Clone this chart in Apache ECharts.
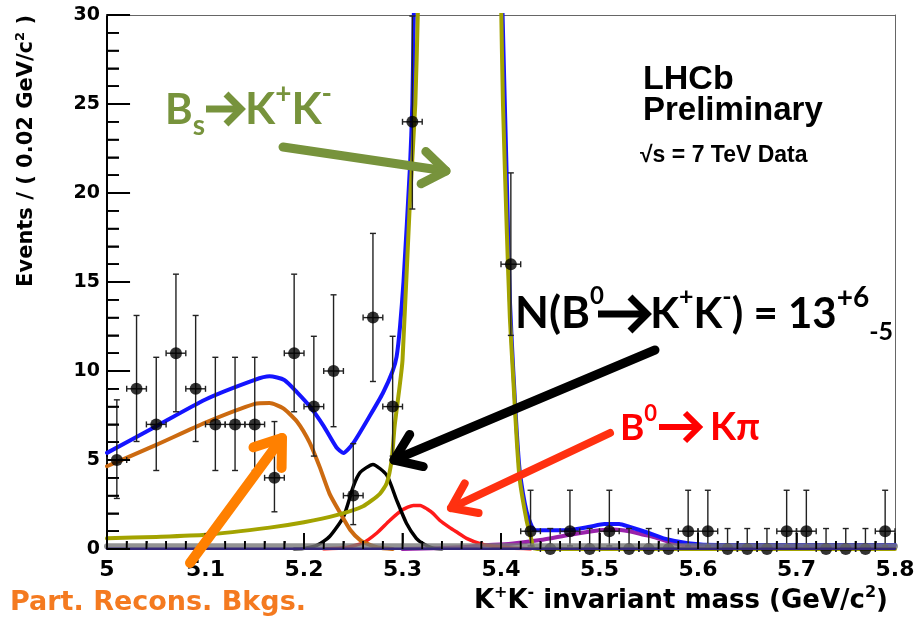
<!DOCTYPE html>
<html><head><meta charset="utf-8">
<script src="https://cdn.jsdelivr.net/npm/echarts@6/dist/echarts.min.js"></script>
<style>html,body{margin:0;padding:0;background:#fff}#c{width:918px;height:624px}</style>
</head><body><div id="c"></div>
<script>
// ---- data ----
const binCenters = [5.01,5.03,5.05,5.07,5.09,5.11,5.13,5.15,5.17,5.19,5.21,5.23,5.25,5.27,5.29,5.31,5.33,5.35,5.37,5.39,
                    5.41,5.43,5.45,5.47,5.49,5.51,5.53,5.55,5.57,5.59,5.61,5.63,5.65,5.67,5.69,5.71,5.73,5.75,5.77,5.79];
const counts = [5,9,7,11,9,7,7,7,4,11,8,10,3,13,8,24,58,105,92,38,
                16,1,0,1,0,1,0,0,0,1,1,0,0,0,1,1,0,0,0,1];
const errLow = [2.84,6.04,4.41,7.71,6.04,4.41,4.41,4.41,2.09,7.71,5.22,6.87,1.37,9.41,5.22,19.1,50.4,94.8,82.4,31.8,
                12.0,0.17,0,0.17,0,0.17,0,0,0,0.17,0.17,0,0,0,0.17,0.17,0,0,0,0.17];
const errHigh = [8.38,13.12,10.77,15.44,13.12,10.77,10.77,10.77,7.16,15.44,11.95,14.28,5.92,17.73,11.95,29.94,66.6,115.8,102.1,44.7,
                 21.13,3.30,1.15,3.30,1.15,3.30,1.15,1.15,1.15,3.30,3.30,1.15,1.15,1.15,3.30,3.30,1.15,1.15,1.15,3.30];
const xTicks = [5.0,5.1,5.2,5.3,5.4,5.5,5.6,5.7,5.8];
const yTicks = [0,5,10,15,20,25,30];

const totalCurve = [[5.000,5.4],[5.050,6.9],[5.100,8.4],[5.150,9.5],[5.165,9.7],[5.180,9.5],[5.193,8.8],[5.206,8.0],
  [5.220,6.9],[5.233,5.7],[5.240,5.4],[5.250,5.95],[5.267,7.5],[5.280,8.75],[5.290,10.0],[5.294,10.8],[5.2975,12.5],
  [5.301,15.0],[5.3076,21.5],[5.310,25.0],[5.3115,30.0],[5.316,40],[5.33,90],[5.36,160],[5.39,90],[5.398,45],
  [5.400,34],[5.4025,28],[5.406,20.5],[5.409,14],[5.4125,10],[5.416,6.6],[5.419,4.4],[5.426,2.1],[5.433,1.1],
  [5.44,1.05],[5.47,1.07],[5.49,1.25],[5.505,1.4],[5.52,1.4],[5.53,1.25],[5.55,0.9],[5.565,0.6],[5.59,0.33],
  [5.62,0.22],[5.80,0.22]];
const bsKKCurve = [[5.00,0.6],[5.05,0.68],[5.10,0.8],[5.165,1.2],[5.20,1.5],[5.233,1.9],[5.26,2.4],[5.277,3.1],
  [5.284,3.7],[5.289,5.0],[5.292,6.9],[5.297,9.1],[5.300,10.6],[5.3076,19.6],[5.313,25],[5.3155,30],[5.32,40],
  [5.335,90],[5.36,150],[5.385,90],[5.395,50],[5.400,31],[5.402,25],[5.406,17.7],[5.409,13],[5.4125,9.5],
  [5.416,6.1],[5.419,3.9],[5.426,1.6],[5.431,0.5],[5.433,0.05],[5.44,0],[5.80,0]];
const partRecoCurve = [[5.00,4.65],[5.05,5.85],[5.10,7.1],[5.15,8.15],[5.165,8.2],[5.179,7.9],[5.193,7.15],
  [5.206,5.95],[5.216,4.6],[5.226,3.1],[5.237,2.0],[5.247,1.07],[5.257,0.5],[5.264,0.3],[5.275,0.08],[5.29,0]];
const b0KKCurve = [[5.19,0],[5.199,0.02],[5.213,0.2],[5.226,0.7],[5.240,1.8],[5.250,3.5],[5.257,4.3],[5.270,4.75],
  [5.284,4.15],[5.294,2.75],[5.304,1.45],[5.314,0.6],[5.321,0.3],[5.331,0.05],[5.34,0]];
const b0KpiCurve = [[5.22,0],[5.243,0.08],[5.26,0.35],[5.274,0.9],[5.287,1.6],[5.300,2.2],[5.311,2.45],[5.318,2.45],
  [5.325,2.25],[5.331,2.0],[5.338,1.6],[5.348,1.2],[5.355,0.95],[5.365,0.6],[5.379,0.3],[5.392,0.15],[5.41,0.05],[5.43,0]];
const threeBodyCurve = [[5.30,0],[5.36,0.1],[5.38,0.2],[5.41,0.3],[5.44,0.5],[5.47,0.8],[5.50,1.05],[5.515,1.1],
  [5.53,1.0],[5.545,0.8],[5.555,0.67],[5.575,0.33],[5.595,0.13],[5.62,0.02],[5.65,0]];
const combCurve = [[5.0,0.15],[5.8,0.15]];
const baseCurve = [[5.0,0.02],[5.8,0.02]];

// tick mark lengths expressed in data units (style)
const TICK = {xMajor:0.9, xMinor:0.45, yMajor:0.0234, yMinor:0.0122};

// ---- chart ----
const chart = echarts.init(document.getElementById('c'), null, {renderer:'canvas'});
const pts = binCenters.map((x,i)=>[x, counts[i]]);
const errs = binCenters.map((x,i)=>[x, errLow[i], errHigh[i], counts[i]]);

// tick segments (broken by empty points), drawn as a line series through the axes
const tickSegs = [];
for (let i=0;i<xTicks.length-1;i++){
  for (let k=0;k<5;k++){
    const v = xTicks[i] + (xTicks[i+1]-xTicks[i])*k/5;
    tickSegs.push([v,0],[v,k===0?TICK.xMajor:TICK.xMinor],[null,null]);
  }
}
for (let i=0;i<yTicks.length-1;i++){
  for (let k=0;k<5;k++){
    const v = yTicks[i] + (yTicks[i+1]-yTicks[i])*k/5;
    tickSegs.push([5,v],[5+(k===0?TICK.yMajor:TICK.yMinor),v],[null,null]);
  }
}
tickSegs.push([5,30],[5+TICK.yMajor,30]);

const GREEN = '#77933C', ORANGE = '#FF8000';
function arrow(x0,y0,x1,y1,color,w,hl){
  const a = Math.atan2(y0-y1, x0-x1), ang = 0.62;
  return [
    {type:'polyline', z:100, shape:{points:[[x0,y0],[x1,y1]]}, style:{stroke:color, lineWidth:w, lineCap:'round', fill:null}},
    {type:'polyline', z:100, shape:{points:[[x1+hl*Math.cos(a+ang), y1+hl*Math.sin(a+ang)],[x1,y1],
      [x1+hl*Math.cos(a-ang), y1+hl*Math.sin(a-ang)]]}, style:{stroke:color, lineWidth:w, lineCap:'round', lineJoin:'round', fill:null}}
  ];
}
function textArrow(x0,x1,y,h,w,color){
  return [
    {type:'polyline', z:100, shape:{points:[[x0,y],[x1-3,y]]}, style:{stroke:color, lineWidth:w, lineCap:'butt', fill:null}},
    {type:'polyline', z:100, shape:{points:[[x1-h,y-h],[x1,y],[x1-h,y+h]]}, style:{stroke:color, lineWidth:w, lineCap:'butt', lineJoin:'miter', fill:null}}
  ];
}
function font(fam, size, color, extra){ return Object.assign({fontFamily:fam, fontWeight:'bold', fontSize:size, fill:color}, extra||{}); }
const lato = (s,c,e)=>font('Lato',s,c,e);
const dj = (s,e)=>font('DejaVu Sans',s,'#000',e);

const curve = (name, data, color, w, z) => ({
  type:'line', name, data, showSymbol:false, symbol:'none', smooth:0.2,
  lineStyle:{color, width:w, cap:'round', join:'round'}, z: z||2, animation:false, silent:true
});

const hiddenAxis = {axisTick:{show:false}, minorTick:{show:false}, axisLabel:{show:false}, splitLine:{show:false}};
const graphics = [
    {type:'text', x:888, y:601, z:100, style:{text:'{m|K}{s|+}{m|K}{s|-}{m| invariant mass (GeV/c}{s|2}{m|)}',
      align:'right', textAlign:'right', verticalAlign:'middle', textVerticalAlign:'middle',
      rich:{m:dj(26,{lineHeight:32}), s:dj(16,{lineHeight:22, verticalAlign:'top'})}}},
    {type:'text', x:27, y:15, rotation:Math.PI/2, z:100, style:{text:'{m|Events / ( 0.02 GeV/c}{s|2}{m| )}',
      align:'right', textAlign:'right', verticalAlign:'middle', textVerticalAlign:'middle',
      rich:{m:dj(21,{lineHeight:26}), s:dj(13,{lineHeight:16, verticalAlign:'top'})}}},
    {type:'text', x:643, y:80, z:100, style:{text:'LHCb', fontFamily:'Liberation Sans', fontWeight:'bold', fontSize:34, fill:'#000', verticalAlign:'middle', textVerticalAlign:'middle'}},
    {type:'text', x:643, y:111, z:100, style:{text:'Preliminary', fontFamily:'Liberation Sans', fontWeight:'bold', fontSize:33, fill:'#000', verticalAlign:'middle', textVerticalAlign:'middle'}},
    {type:'text', x:640, y:156, z:100, style:{text:'√s = 7 TeV Data', fontFamily:'Liberation Sans', fontWeight:'bold', fontSize:23, fill:'#000', verticalAlign:'middle', textVerticalAlign:'middle'}},
    {type:'text', x:165, y:110, z:100, style:{text:'{m|B}{sb|s}',
      align:'left', textAlign:'left', verticalAlign:'middle', textVerticalAlign:'middle',
      rich:{m:lato(42,GREEN,{lineHeight:60}), sb:lato(28,GREEN,{lineHeight:24, verticalAlign:'bottom'})}}},
    ...textArrow(206,241,109,15,7,GREEN),
    {type:'text', x:245, y:110, z:100, style:{text:'{m|K}{sp|+}{m|K}{sp2|-}',
      align:'left', textAlign:'left', verticalAlign:'middle', textVerticalAlign:'middle',
      rich:{m:lato(44,GREEN,{lineHeight:60}), sp:lato(28,GREEN,{lineHeight:50, verticalAlign:'top'}),
            sp2:lato(28,GREEN,{lineHeight:42, verticalAlign:'top'})}}},
    {type:'text', x:515, y:314, z:100, style:{text:'{m|N(B}{s0|0}',
      align:'left', textAlign:'left', verticalAlign:'middle', textVerticalAlign:'middle',
      rich:{m:lato(44,'#000',{lineHeight:60}), s0:lato(24,'#000',{lineHeight:45, verticalAlign:'top'})}}},
    ...textArrow(598,647,314,17,7,'#000'),
    {type:'text', x:893, y:314, z:100, style:{text:'{m|K}{s1|+}{m|K}{s1|-}{m|) = 13}{s3|+6}{s4|-5}',
      align:'right', textAlign:'right', verticalAlign:'middle', textVerticalAlign:'middle',
      rich:{m:lato(42,'#000',{lineHeight:60}), s1:lato(25,'#000',{lineHeight:42, verticalAlign:'top'}),
            s3:lato(28,'#000',{lineHeight:14, verticalAlign:'top'}), s4:lato(25,'#000',{lineHeight:10, verticalAlign:'bottom'})}}},
    {type:'text', x:620, y:428, z:100, style:{text:'{m|B}{s0|0}',
      align:'left', textAlign:'left', verticalAlign:'middle', textVerticalAlign:'middle',
      rich:{m:lato(37,'#FF0000',{lineHeight:50}), s0:lato(22,'#FF0000',{lineHeight:38, verticalAlign:'top'})}}},
    ...textArrow(659,699,427,14,6,'#FF0000'),
    {type:'text', x:760, y:428, z:100, style:{text:'Kπ', align:'right', textAlign:'right', verticalAlign:'middle', textVerticalAlign:'middle',
      fontFamily:'Lato', fontWeight:'bold', fontSize:38, fill:'#FF0000'}},
    {type:'text', x:10, y:603, z:100, style:{text:'Part. Recons. Bkgs.', fontFamily:'DejaVu Sans', fontWeight:'bold', fontSize:27, fill:'#F47A20', verticalAlign:'middle', textVerticalAlign:'middle'}},
    ...arrow(283,147,446,171,GREEN,9,28),
    ...arrow(655,350,394,460,'#000',9,30),
    ...arrow(610,433,451,508,'#FF3010',8,28),
    ...arrow(190,563,282,438,ORANGE,10,30)
];

const option = {
  animation:false,
  backgroundColor:'#fff',
  grid:{left:107, right:23, top:15, bottom:75, show:false},
  xAxis:[{
    type:'value', min:5, max:5.8, interval:0.1, position:'bottom',
    axisLine:{show:true, onZero:false, lineStyle:{color:'#000', width:2}},
    axisTick:{show:true, inside:true, length:16, lineStyle:{color:'#000', width:1.5}},
    minorTick:{show:true, splitNumber:5, length:8, lineStyle:{color:'#000', width:1.5}},
    splitLine:{show:false},
    axisLabel:{margin:10, color:'#000', fontFamily:'DejaVu Sans', fontWeight:'bold', fontSize:22,
      formatter:v=>String(Math.round(v*10)/10), showMinLabel:true, showMaxLabel:true}
  }, Object.assign({type:'value', min:5, max:5.8, position:'top',
    axisLine:{show:true, onZero:false, lineStyle:{color:'#666', width:1}}}, hiddenAxis)],
  yAxis:[{
    type:'value', min:0, max:30, interval:5, position:'left',
    axisLine:{show:true, onZero:false, lineStyle:{color:'#000', width:2}},
    axisTick:{show:true, inside:true, length:23, lineStyle:{color:'#000', width:1.5}},
    minorTick:{show:true, splitNumber:5, length:12, lineStyle:{color:'#000', width:1.5}},
    splitLine:{show:false},
    axisLabel:{margin:7, color:'#000', fontFamily:'DejaVu Sans', fontWeight:'bold', fontSize:19}
  }, Object.assign({type:'value', min:0, max:30, position:'right',
    axisLine:{show:true, onZero:false, lineStyle:{color:'#666', width:1}}}, hiddenAxis)],
  series:[
    curve('threebody', threeBodyCurve, '#9922AA', 4),
    curve('b0kpi', b0KpiCurve, '#FF1A1A', 3.5),
    curve('b0kk', b0KKCurve, '#000000', 3.5),
    curve('partreco', partRecoCurve, '#CC6A10', 4),
    curve('total', totalCurve, '#1414FF', 4),
    curve('bskk', bsKKCurve, '#A3A300', 4, 3),
    {
      type:'custom', name:'errors', data:errs, clip:false, z:4, silent:true,
      renderItem:(params, api)=>{
        const x = api.value(0), n = api.value(3);
        const lo = api.value(1), hi = Math.min(api.value(2), 30);
        const ch = [];
        if (n <= 30) {
          const pLo = api.coord([x, lo]), pHi = api.coord([x, hi]);
          const pL = api.coord([x-0.01, n]), pR = api.coord([x+0.01, n]);
          const c = 3, st = {stroke:'#222', lineWidth:1.4};
          ch.push(
            {type:'line', shape:{x1:pLo[0], y1:pLo[1], x2:pHi[0], y2:pHi[1]}, style:st},
            {type:'line', shape:{x1:pLo[0]-c, y1:pLo[1], x2:pLo[0]+c, y2:pLo[1]}, style:st},
            {type:'line', shape:{x1:pL[0], y1:pL[1], x2:pR[0], y2:pR[1]}, style:st},
            {type:'line', shape:{x1:pL[0], y1:pL[1]-c, x2:pL[0], y2:pL[1]+c}, style:st},
            {type:'line', shape:{x1:pR[0], y1:pR[1]-c, x2:pR[0], y2:pR[1]+c}, style:st});
          if (api.value(2) <= 30) ch.push({type:'line', shape:{x1:pHi[0]-c, y1:pHi[1], x2:pHi[0]+c, y2:pHi[1]}, style:st});
        }
        return {type:'group', children:ch};
      }
    },
    {type:'scatter', name:'data', data:pts, symbol:'circle', symbolSize:12, itemStyle:{color:'#000'}, z:5, clip:true, silent:true},
    curve('comb', combCurve, 'rgba(120,120,120,0.8)', 6, 6),
    curve('base', baseCurve, '#35287a', 2.5, 6),
    {type:'line', name:'ticks', data:tickSegs, showSymbol:false, symbol:'none', smooth:false, connectNulls:false,
      clip:false, lineStyle:{color:'#000', width:1.8, cap:'butt'}, z:7, silent:true, animation:false}
  ],
  graphic: graphics
};
chart.setOption(option);
</script></body></html>
